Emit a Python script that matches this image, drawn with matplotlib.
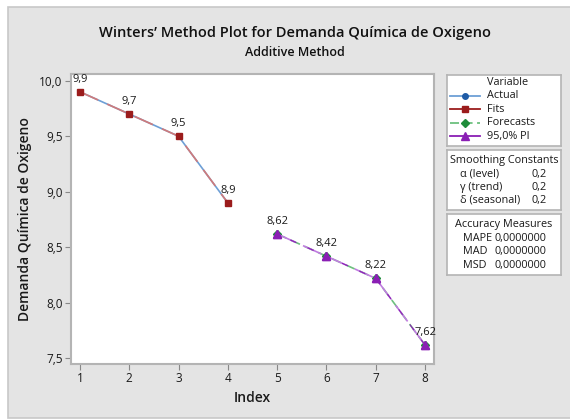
import matplotlib
matplotlib.use("Agg")
import matplotlib.pyplot as plt
from matplotlib.patches import Rectangle
from matplotlib.lines import Line2D
from matplotlib.ticker import FuncFormatter, FixedLocator

# ---- data ----
index_actual = [1, 2, 3, 4]
actual = [9.9, 9.7, 9.5, 8.9]
fits = [9.9, 9.7, 9.5, 8.9]
index_fc = [5, 6, 7, 8]
forecasts = [8.62, 8.42, 8.22, 7.62]
pi_lower = [8.62, 8.42, 8.22, 7.62]
pi_upper = [8.62, 8.42, 8.22, 7.62]
y_ticks = [7.5, 8.0, 8.5, 9.0, 9.5, 10.0]
x_ticks = [1, 2, 3, 4, 5, 6, 7, 8]
legend_names = ["Actual", "Fits", "Forecasts", "95,0% PI"]
smoothing_names = ["\u03b1 (level)", "\u03b3 (trend)", "\u03b4 (seasonal)"]
smoothing_values = ["0,2", "0,2", "0,2"]
accuracy_names = ["MAPE", "MAD", "MSD"]
accuracy_values = ["0,0000000", "0,0000000", "0,0000000"]

plt.rcParams['font.family'] = ['Open Sans', 'DejaVu Sans']

W, H = 570, 419
fig = plt.figure(figsize=(W / 100, H / 100), dpi=100)
fig.patch.set_facecolor("white")

def fx(px):
    return px / W

def fy(py):
    return 1 - py / H

# gray frame
fig.patches.append(Rectangle((fx(8), fy(418)), fx(600) - fx(8), fy(7) - fy(418),
                             transform=fig.transFigure, facecolor="#e4e4e4",
                             edgecolor="#c8c8c8", lw=1.2, zorder=-10))

ax = fig.add_axes([fx(71), fy(364), fx(434) - fx(71), fy(74) - fy(364)])
ax.set_facecolor("white")
for s in ax.spines.values():
    s.set_color("#b4b4b4")
    s.set_linewidth(1.5)

blue_l, blue_m = "#6d9fd6", "#1f5ba6"
red, red_l = "#9b1c1c", "#d07a7a"
green_l, green_m = "#6cc07e", "#1e8c3a"
purp_l, purp_m = "#c07ce0", "#8a1fb4"

ax.plot(index_actual, actual, color=blue_l, lw=1.2, marker="o", ms=4,
        mfc=blue_m, mec=blue_m, zorder=2)
ax.plot(index_actual, fits, color=red_l, lw=1.2, ls=(0, (12, 6)), marker="s", ms=5,
        mfc=red, mec=red, zorder=3)
ax.plot(index_fc, forecasts, color=green_l, lw=1.2, ls=(0, (6, 3)), marker="D",
        ms=4, mfc=green_m, mec=green_m, zorder=2)
ax.plot(index_fc, pi_lower, color=purp_l, lw=1.2, ls=(0, (12, 5)), marker="^",
        ms=6, mfc=purp_m, mec=purp_m, zorder=3)
ax.plot(index_fc, pi_upper, color=purp_m, lw=0.8, ls=(4, (6, 11)), marker="^",
        ms=6, mfc=purp_m, mec=purp_m, zorder=3)

def fmt(v):
    s = f"{v:.2f}".rstrip("0").rstrip(".")
    return s.replace(".", ",")

for x, y in zip(index_actual, actual):
    ax.annotate(fmt(y), (x, y), xytext=(0, 5), textcoords="offset points",
                ha="center", va="bottom", fontsize=8, color="#1a1a1a")
for x, y in zip(index_fc, forecasts):
    ax.annotate(fmt(y), (x, y), xytext=(0, 5), textcoords="offset points",
                ha="center", va="bottom", fontsize=8, color="#1a1a1a")

ax.set_xlim(0.82, 8.18)
ax.set_ylim(7.45, 10.06)
ax.xaxis.set_major_locator(FixedLocator(x_ticks))
ax.yaxis.set_major_locator(FixedLocator(y_ticks))
ax.yaxis.set_major_formatter(FuncFormatter(lambda v, p: f"{v:.1f}".replace(".", ",")))
ax.tick_params(axis="both", direction="out", length=4, width=0.8, color="#888888",
               labelsize=8.5, labelcolor="#1a1a1a", pad=2)
ax.set_xlabel("Index", fontsize=10, color="#1a1a1a", labelpad=4, fontweight="semibold")
ax.set_ylabel("Demanda Química de Oxigeno", fontsize=10, color="#1a1a1a", labelpad=5,
              fontweight="semibold")

fig.text(fx(295), fy(33), "Winters\u2019 Method Plot for Demanda Química de Oxigeno",
         ha="center", va="center", fontsize=10.5, color="#111111", fontweight="semibold")
fig.text(fx(295), fy(52), "Additive Method", ha="center", va="center",
         fontsize=9, color="#111111", fontweight="semibold")

def box(top, bottom, left=447, right=561):
    b = fig.add_axes([fx(left), fy(bottom), fx(right) - fx(left), fy(top) - fy(bottom)])
    b.set_xlim(0, 1)
    b.set_ylim(0, 1)
    b.set_xticks([])
    b.set_yticks([])
    b.set_facecolor("white")
    for s in b.spines.values():
        s.set_color("#b4b4b4")
        s.set_linewidth(1.2)
    return b

fs = 7.8
# Variable legend
b1 = box(75, 146)
b1.text(0.35, 0.89, "Variable", ha="left", va="center", fontsize=fs, color="#1a1a1a")
styles = [
    dict(color=blue_l, ls="-", marker="o", mfc=blue_m, mec=blue_m, ms=4),
    dict(color=red, ls="-", marker="s", mfc=red, mec=red, ms=5),
    dict(color=green_l, ls=(0, (5, 2.5)), marker="D", mfc=green_m, mec=green_m, ms=4),
    dict(color=purp_m, ls="-", marker="^", mfc=purp_m, mec=purp_m, ms=6),
]
ys = [0.71, 0.52, 0.33, 0.14]
for name, st, yy in zip(legend_names, styles, ys):
    b1.add_line(Line2D([0.03, 0.29], [yy, yy], lw=1.3, color=st["color"], ls=st["ls"]))
    b1.plot([0.16], [yy], marker=st["marker"], mfc=st["mfc"], mec=st["mec"], ms=st["ms"], ls="none")
    b1.text(0.35, yy, name, ha="left", va="center", fontsize=fs, color="#1a1a1a")

# Smoothing constants
b2 = box(150, 210)
b2.text(0.5, 0.83, "Smoothing Constants", ha="center", va="center", fontsize=fs, color="#1a1a1a")
for i, (n, v) in enumerate(zip(smoothing_names, smoothing_values)):
    yy = 0.6 - i * 0.22
    b2.text(0.11, yy, n, ha="left", va="center", fontsize=fs, color="#1a1a1a")
    b2.text(0.74, yy, v, ha="left", va="center", fontsize=fs, color="#1a1a1a")

# Accuracy measures
b3 = box(214, 275)
b3.text(0.5, 0.83, "Accuracy Measures", ha="center", va="center", fontsize=fs, color="#1a1a1a")
for i, (n, v) in enumerate(zip(accuracy_names, accuracy_values)):
    yy = 0.6 - i * 0.22
    b3.text(0.14, yy, n, ha="left", va="center", fontsize=fs, color="#1a1a1a")
    b3.text(0.42, yy, v, ha="left", va="center", fontsize=fs, color="#1a1a1a")

fig.savefig("out.png", dpi=100)
